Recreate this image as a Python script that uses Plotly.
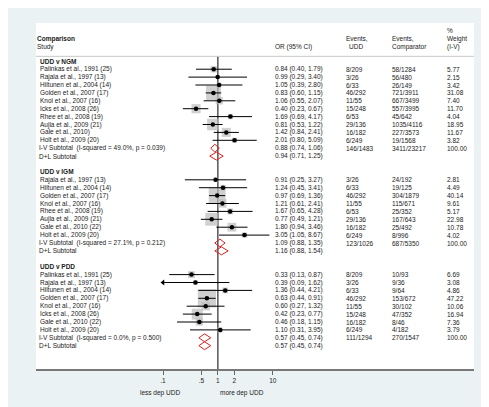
import plotly.graph_objects as go
import math

# ---------------- data ----------------
ngm_studies = ["Palinkas et al., 1991 (25)", "Rajala et al., 1997 (13)", "Hiltunen et al., 2004 (14)",
               "Golden et al., 2007 (17)", "Knol et al., 2007 (16)", "Icks et al., 2008 (26)",
               "Rhee et al., 2008 (19)", "Aujla et al., 2009 (21)", "Gale et al., 2010)", "Holt et al., 2009 (20)"]
ngm_or = [0.84, 0.99, 1.05, 0.83, 1.06, 0.40, 1.69, 0.81, 1.42, 2.01]
ngm_lo = [0.40, 0.29, 0.39, 0.60, 0.55, 0.23, 0.69, 0.53, 0.84, 0.80]
ngm_hi = [1.79, 3.40, 2.80, 1.15, 2.07, 0.67, 4.17, 1.22, 2.41, 5.09]
ngm_ev_udd = ["8/209", "3/26", "6/33", "46/292", "11/55", "15/248", "6/53", "29/136", "16/182", "6/249"]
ngm_ev_cmp = ["58/1284", "56/480", "26/149", "721/3911", "667/3499", "557/3995", "45/642", "1035/4116", "227/3573", "19/1568"]
ngm_wt = [5.77, 2.15, 3.42, 31.08, 7.40, 11.70, 4.04, 18.95, 11.67, 3.82]
ngm_iv = (0.88, 0.74, 1.06)
ngm_dl = (0.94, 0.71, 1.25)
ngm_tot = ("146/1483", "3411/23217")
ngm_het = (49.0, 0.039)

igm_studies = ["Rajala et al., 1997 (13)", "Hiltunen et al., 2004 (14)", "Golden et al., 2007 (17)",
               "Knol et al., 2007 (16)", "Rhee et al., 2008 (19)", "Aujla et al., 2009 (21)",
               "Gale et al., 2010 (22)", "Holt et al., 2009 (20)"]
igm_or = [0.91, 1.24, 0.97, 1.21, 1.67, 0.77, 1.80, 3.05]
igm_lo = [0.25, 0.45, 0.69, 0.61, 0.65, 0.49, 0.94, 1.05]
igm_hi = [3.27, 3.41, 1.36, 2.41, 4.28, 1.21, 3.46, 8.67]
igm_ev_udd = ["3/26", "6/33", "46/292", "11/55", "6/53", "29/136", "16/182", "6/249"]
igm_ev_cmp = ["24/192", "19/125", "304/1879", "115/671", "25/352", "167/643", "25/492", "8/996"]
igm_wt = [2.81, 4.49, 40.14, 9.61, 5.17, 22.98, 10.78, 4.02]
igm_iv = (1.09, 0.88, 1.35)
igm_dl = (1.16, 0.88, 1.54)
igm_tot = ("123/1026", "687/5350")
igm_het = (27.1, 0.212)

pdd_studies = ["Palinkas et al., 1991 (25)", "Rajala et al., 1997 (13)", "Hiltunen et al., 2004 (14)",
               "Golden et al., 2007 (17)", "Knol et al., 2007 (16)", "Icks et al., 2008 (26)",
               "Gale et al., 2010 (22)", "Holt et al., 2009 (20)"]
pdd_or = [0.33, 0.39, 1.36, 0.63, 0.60, 0.42, 0.46, 1.10]
pdd_lo = [0.13, 0.09, 0.44, 0.44, 0.27, 0.23, 0.18, 0.31]
pdd_hi = [0.87, 1.62, 4.21, 0.91, 1.32, 0.77, 1.15, 3.95]
pdd_ev_udd = ["8/209", "3/26", "6/33", "46/292", "11/55", "15/248", "16/182", "6/249"]
pdd_ev_cmp = ["10/93", "9/36", "9/64", "153/672", "30/102", "47/352", "8/46", "4/182"]
pdd_wt = [6.69, 3.08, 4.86, 47.22, 10.06, 16.94, 7.36, 3.79]
pdd_iv = (0.57, 0.45, 0.74)
pdd_dl = (0.57, 0.45, 0.74)
pdd_tot = ("111/1294", "270/1547")
pdd_het = (0.0, 0.500)

groups = [
    ("UDD v NGM", ngm_studies, ngm_or, ngm_lo, ngm_hi, ngm_ev_udd, ngm_ev_cmp, ngm_wt, ngm_iv, ngm_dl, ngm_tot, ngm_het),
    ("UDD v IGM", igm_studies, igm_or, igm_lo, igm_hi, igm_ev_udd, igm_ev_cmp, igm_wt, igm_iv, igm_dl, igm_tot, igm_het),
    ("UDD v PDD", pdd_studies, pdd_or, pdd_lo, pdd_hi, pdd_ev_udd, pdd_ev_cmp, pdd_wt, pdd_iv, pdd_dl, pdd_tot, pdd_het),
]

tick_vals = [0.1, 0.5, 1, 2, 10]
tick_text = [".1", ".5", "1", "2", "10"]
XMIN, XMAX = 0.1, 10

# ---------------- layout geometry ----------------
W, H = 489, 407
L, R, T, B = 28, 23, 15, 46
PW = W - L - R
PH = H - T - B
Y_TOP, Y_BOT = -4.85, 38.95

def px(xp):
    return (xp - L) / PW

def py(yp):
    return (H - B - yp) / PH

FONT = "Liberation Sans, Arial, sans-serif"
FS = 6.5
TXT = "#1a1a1a"

STUDY_X, HEAD_X, SUB_X = 31, 30.5, 29.5
OR_X, EVU_X, EVC_X, WT_X = 266, 337, 382.7, 437.7

annotations = []

def txt(xp, row, s, bold=False, anchor="left"):
    annotations.append(dict(
        x=px(xp), xref="paper", y=row, yref="y", text=("<b>%s</b>" % s) if bold else s,
        showarrow=False, xanchor=anchor, yanchor="middle",
        font=dict(family=FONT, size=FS, color=TXT), borderpad=0))

def fmt(e, l, h):
    return "%.2f (%.2f, %.2f)" % (e, l, h)

# header
txt(28, -2.86, "Comparison", bold=True)
txt(28, -1.87, "Study")
txt(OR_X, -1.85, "OR (95% CI)")
txt(EVU_X, -2.86, "Events,")
txt(EVU_X + 2.5, -1.85, "UDD")
txt(EVC_X, -2.86, "Events,")
txt(EVC_X, -1.85, "Comparator")
txt(WT_X, -3.87, "%")
txt(WT_X, -2.86, "Weight")
txt(WT_X, -1.85, "(I-V)")

box_x, box_y, box_s = [], [], []
ci_x, ci_y = [], []
dot_x, dot_y = [], []
arr_l_x, arr_l_y = [], []
dia_traces = []

row = 0
for (name, studies, orv, lo, hi, evu, evc, wt, iv, dl, tot, het) in groups:
    txt(HEAD_X, row, name, bold=True)
    row += 1
    for i in range(len(studies)):
        txt(STUDY_X, row, studies[i])
        txt(OR_X, row, fmt(orv[i], lo[i], hi[i]))
        txt(EVU_X, row, evu[i])
        txt(EVC_X, row, evc[i])
        txt(WT_X, row, "%.2f" % wt[i])
        box_x.append(orv[i]); box_y.append(row); box_s.append(2.66 * math.sqrt(wt[i]))
        l = max(lo[i], XMIN); h = min(hi[i], XMAX)
        ci_x += [l, h, None]; ci_y += [row, row, None]
        if lo[i] < XMIN:
            arr_l_x.append(XMIN); arr_l_y.append(row)
        dot_x.append(orv[i]); dot_y.append(row)
        row += 1
    txt(SUB_X, row, "I-V Subtotal  (I-squared = %.1f%%, p = %.3f)" % het)
    txt(OR_X, row, fmt(*iv))
    txt(EVU_X, row, tot[0])
    txt(EVC_X, row, tot[1])
    txt(WT_X, row, "100.00")
    dia_traces.append((iv, row))
    row += 1
    txt(SUB_X, row, "D+L Subtotal")
    txt(OR_X, row, fmt(*dl))
    dia_traces.append((dl, row))
    row += 2

fig = go.Figure()

# null line
fig.add_trace(go.Scatter(x=[1, 1], y=[-0.63, Y_BOT], mode="lines",
                         line=dict(color="black", width=1), hoverinfo="skip"))
# boxes
fig.add_trace(go.Scatter(x=box_x, y=box_y, mode="markers",
                         marker=dict(symbol="square", size=box_s, color="#bcbcbc", line=dict(width=0)),
                         hoverinfo="skip"))
# CI lines
fig.add_trace(go.Scatter(x=ci_x, y=ci_y, mode="lines", line=dict(color="black", width=1),
                         hoverinfo="skip"))
fig.add_trace(go.Scatter(x=arr_l_x, y=arr_l_y, mode="markers",
                         marker=dict(symbol="arrow-bar-left", size=1, color="black"), hoverinfo="skip",
                         visible=False))
fig.add_trace(go.Scatter(x=arr_l_x, y=arr_l_y, mode="markers",
                         marker=dict(symbol="triangle-left", size=5, color="black"), hoverinfo="skip"))
# dots
fig.add_trace(go.Scatter(x=dot_x, y=dot_y, mode="markers",
                         marker=dict(symbol="circle", size=4.5, color="black"), hoverinfo="skip"))
# diamonds
DH = 0.5
for (e, l, h), r in dia_traces:
    fig.add_trace(go.Scatter(x=[l, e, h, e, l], y=[r, r - DH, r, r + DH, r], mode="lines",
                             line=dict(color="#e02020", width=1), hoverinfo="skip"))

# header separator line
shapes = [dict(type="line", xref="paper", yref="y", x0=0, x1=1, y0=-0.63, y1=-0.63,
               line=dict(color="#c8c8c8", width=1))]

# axis titles
annotations.append(dict(x=px(152), xref="paper", y=py(385), yref="paper", text="less dep UDD",
                        showarrow=False, xanchor="center", yanchor="middle",
                        font=dict(family=FONT, size=FS, color=TXT)))
annotations.append(dict(x=px(234), xref="paper", y=py(385), yref="paper", text="more dep UDD",
                        showarrow=False, xanchor="center", yanchor="middle",
                        font=dict(family=FONT, size=FS, color=TXT)))

lo_log = -1 + (L - 155) / 54.9
hi_log = -1 + (W - R - 155) / 54.9

fig.update_layout(
    width=W, height=H,
    margin=dict(l=L, r=R, t=T, b=B, pad=0),
    paper_bgcolor="#eaf2f3", plot_bgcolor="white",
    showlegend=False,
    shapes=shapes, annotations=annotations,
    xaxis=dict(type="log", range=[lo_log, hi_log], tickvals=tick_vals, ticktext=tick_text,
               ticks="outside", ticklen=4, tickcolor="#666", tickwidth=1,
               showline=True, linecolor="#777", linewidth=1.5, showgrid=False, zeroline=False,
               tickfont=dict(family=FONT, size=FS, color=TXT), fixedrange=True),
    yaxis=dict(range=[Y_BOT, Y_TOP], visible=False, showgrid=False, zeroline=False, fixedrange=True),
)

fig.write_html("out.html")
